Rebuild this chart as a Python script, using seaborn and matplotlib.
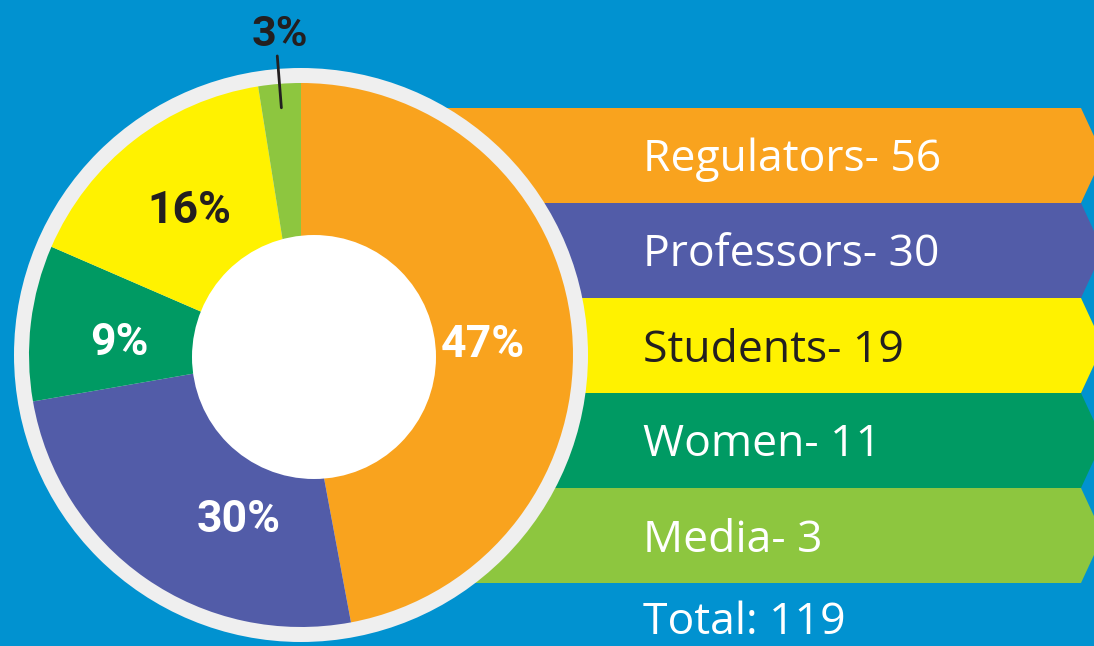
import numpy as np
import matplotlib
matplotlib.use("Agg")
import matplotlib.pyplot as plt
from matplotlib.patches import Circle, Polygon
import seaborn as sns

# Daten
groups = ["Regulators", "Professors", "Students", "Women", "Media"]
counts = [56, 30, 19, 11, 3]
pie_order = ["Regulators", "Professors", "Women", "Students", "Media"]
pie_labels = ["47%", "30%", "9%", "16%", "3%"]
total_label = "Total: 119"

colors = dict(zip(groups, ["#F9A31E", "#525CA8", "#FFF200", "#009A63", "#8DC63F"]))
dark = "#231F20"
bg = "#0192D0"

sns.set_style("white", {"axes.facecolor": bg, "figure.facecolor": bg})
plt.rcParams["font.family"] = ["Roboto", "DejaVu Sans"]
banner_font = ["Open Sans", "DejaVu Sans"]

W, H = 1094, 646
fig = plt.figure(figsize=(W / 100, H / 100), dpi=100)
ax = fig.add_axes([0, 0, 1, 1])

# Banner (Pfeile) rechts
row_h = 95
top = 108
x0, x1, tip = 420, 1081, 1103
for i, g in enumerate(groups):
    yt = H - (top + i * row_h)
    yb = yt - row_h
    ym = (yt + yb) / 2
    ax.add_patch(Polygon([(x0, yb), (x0, yt), (x1, yt), (tip, ym), (x1, yb)],
                         closed=True, facecolor=colors[g], edgecolor="none", zorder=1))
    txt_col = dark if g == "Students" else "white"
    ax.text(643, ym - 16, f"{g}- {counts[groups.index(g)]}", color=txt_col,
            family=banner_font, fontsize=32, ha="left", va="baseline", zorder=6)

ax.text(643, H - 634, total_label, color="white", family=banner_font, fontsize=32,
        ha="left", va="baseline", zorder=6)

# Donut
cx, cy = 301, H - 355
r = 272
ax.add_patch(Circle((cx, cy), 287, facecolor="#EFEFEF", edgecolor="none", zorder=2))

vals = [counts[groups.index(g)] for g in pie_order]
wedges, _ = ax.pie(vals, colors=[colors[g] for g in pie_order], startangle=90,
                   counterclock=False, radius=r, center=(cx, cy),
                   wedgeprops=dict(linewidth=0))
for w in wedges:
    w.set_zorder(3)

# Loch (leicht versetzt wie im Original)
ax.add_patch(Circle((314, H - 357), 122, facecolor="white", edgecolor="none", zorder=4))

# Prozent-Beschriftungen
nudge = {"Regulators": -2, "Professors": 14, "Women": 3, "Students": 0}
for w, g, lab in zip(wedges, pie_order, pie_labels):
    mid = np.deg2rad((w.theta1 + w.theta2) / 2)
    col = dark if g in ("Students", "Media") else "white"
    if g == "Media":
        ax.plot([cx + 248 * np.cos(mid), cx + 300 * np.cos(mid)],
                [cy + 248 * np.sin(mid), cy + 300 * np.sin(mid)],
                color=dark, linewidth=2, zorder=5)
        ax.text(cx + 322 * np.cos(mid) + 4, cy + 322 * np.sin(mid), lab, color=col,
                fontsize=31, fontweight="bold", ha="center", va="center", zorder=6)
        continue
    a = mid + np.deg2rad(nudge[g])
    rr = 177 if g == "Professors" else 182
    ax.text(cx + rr * np.cos(a), cy + rr * np.sin(a), lab, color=col,
            fontsize=32, fontweight="bold", ha="center", va="center", zorder=6)

ax.set_xlim(0, W)
ax.set_ylim(0, H)
ax.set_axis_off()
fig.savefig("out.png", dpi=100, facecolor=bg)
